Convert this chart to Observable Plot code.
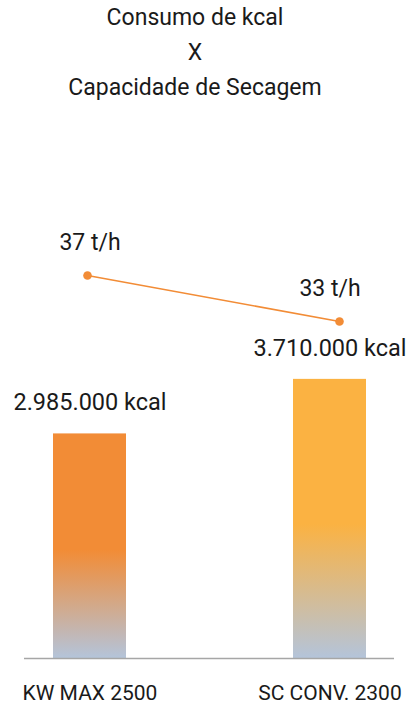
<!DOCTYPE html>
<html>
<head>
<meta charset="utf-8">
<script src="https://cdn.jsdelivr.net/npm/d3@7"></script>
<script src="https://cdn.jsdelivr.net/npm/@observablehq/plot@0.6"></script>
<style>
  html, body { margin: 0; padding: 0; background: #fff; }
  body { width: 409px; height: 708px; overflow: hidden; font-family: Roboto, sans-serif; }
  #title { width: 390px; height: 105px; text-align: center; font-size: 23px; line-height: 35px; color: #1a1a1a; }
  #chart { position: relative; width: 409px; height: 603px; }
  #chart svg { position: absolute; left: 0; top: 0; }
</style>
</head>
<body>
<div id="title">Consumo de kcal<br>X<br>Capacidade de Secagem</div>
<div id="chart"></div>
<script>
const categories = ["KW MAX 2500", "SC CONV. 2300"];
const kcal = [2985000, 3710000];
const kcalLabels = ["2.985.000 kcal", "3.710.000 kcal"];
const capacity = [37, 33];
const capacityLabels = ["37 t/h", "33 t/h"];
const barColors = ["#F28C36", "#FBB242"];
const fadeColor = "#B4C4DA";

const data = categories.map((c, i) => ({cat: c, kcal: kcal[i], kl: kcalLabels[i], th: capacity[i], tl: capacityLabels[i]}));

const W = 409, H = 603, mB = 50;
const yMax = 7350000;
const yMain = d3.scaleLinear([0, yMax], [H - mB, 0]);
const lineYDomain = [33, 37], lineYRange = [216, 170];
const yLine = d3.scaleLinear(lineYDomain, lineYRange);

const main = Plot.plot({
  width: W, height: H,
  marginLeft: 24, marginRight: 15, marginTop: 0, marginBottom: mB,
  style: {fontFamily: "Roboto, sans-serif", color: "#1a1a1a", background: "transparent"},
  x: {type: "band", domain: categories, range: [53, 366], paddingInner: 0.696, paddingOuter: 0, label: null},
  y: {domain: [0, yMax], axis: null},
  marks: [
    ...data.map((d, i) => Plot.barY([d], {x: "cat", y: "kcal", fill: `url(#grad${i})`})),
    Plot.ruleY([0], {stroke: "#a6a6a6", strokeWidth: 1.5}),
    Plot.text(data, {x: "cat", y: "kcal", text: "kl", dy: -31, lineAnchor: "middle", fontSize: 23.5, fill: "#1a1a1a"}),
    Plot.text(data, {x: "cat", y: d => yMain.invert(yLine(d.th)), text: "tl", dy: -33, lineAnchor: "middle", fontSize: 23, fill: "#1a1a1a"}),
    Plot.axisX({tickSize: 0, tickPadding: 27, fontSize: 21, fill: "#1a1a1a", label: null})
  ]
});

const svg = d3.select(main);
const defs = svg.insert("defs", ":first-child");
barColors.forEach((c, i) => {
  const g = defs.append("linearGradient").attr("id", `grad${i}`).attr("x1", 0).attr("y1", 0).attr("x2", 0).attr("y2", 1);
  g.append("stop").attr("offset", "0%").attr("stop-color", c);
  g.append("stop").attr("offset", "52%").attr("stop-color", c);
  g.append("stop").attr("offset", "100%").attr("stop-color", fadeColor);
});

const overlay = Plot.plot({
  width: W, height: H,
  margin: 0,
  style: {background: "transparent"},
  x: {type: "point", domain: categories, range: [87, 339], padding: 0, axis: null},
  y: {domain: lineYDomain, range: lineYRange, axis: null},
  marks: [
    Plot.lineY(data, {x: "cat", y: "th", stroke: "#F28C36", strokeWidth: 1.6}),
    Plot.dot(data, {x: "cat", y: "th", r: 4.3, fill: "#F28C36"})
  ]
});

document.getElementById("chart").append(main, overlay);
</script>
</body>
</html>
